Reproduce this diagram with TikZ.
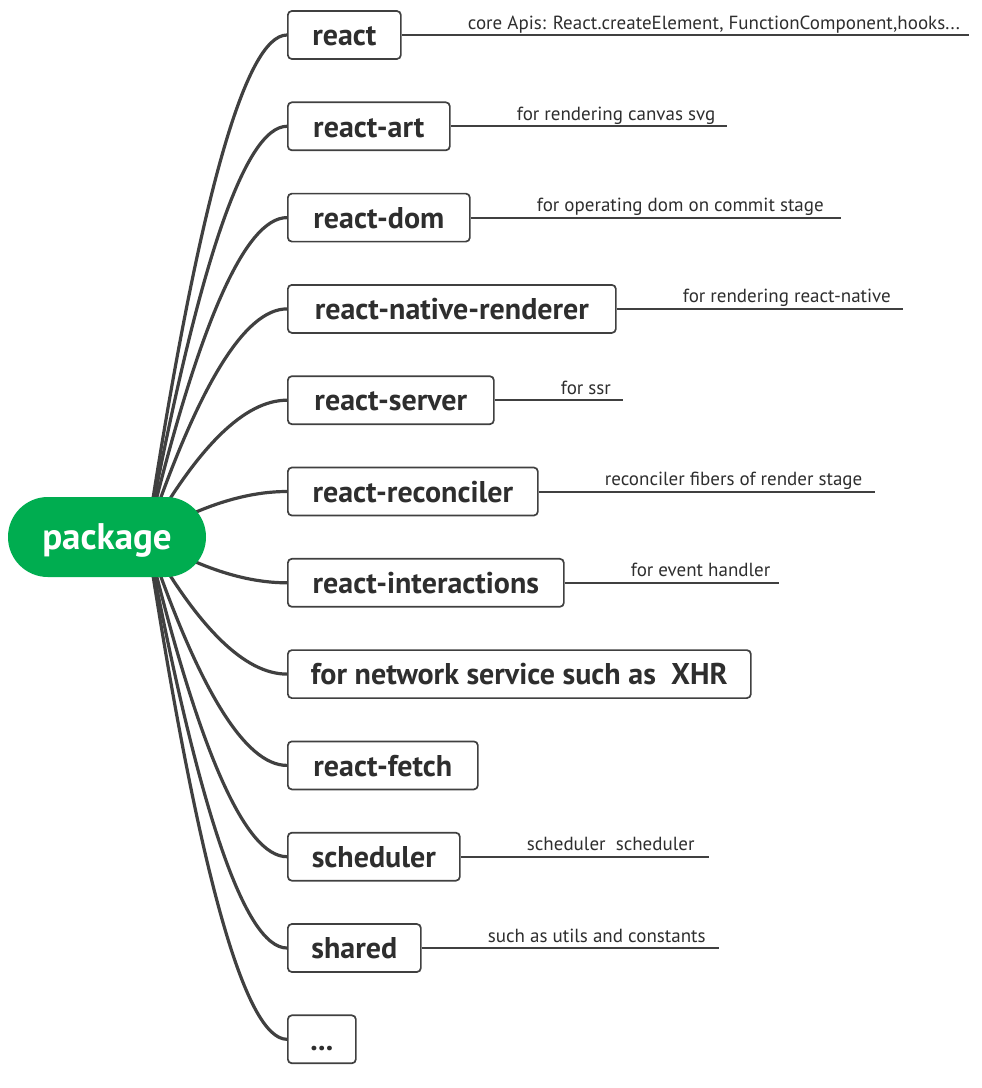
\documentclass[tikz,border=0pt]{standalone}
\usepackage{fontspec}
\setmainfont{PT Sans}
\usetikzlibrary{calc}
\definecolor{rootgreen}{HTML}{00AD50}
\definecolor{ink}{HTML}{2E2E2E}
\definecolor{edgec}{HTML}{404040}
\begin{document}
\begin{tikzpicture}[x=1pt,y=-1pt,
  bx/.style={draw=edgec, line width=1.7pt, rounded corners=4pt, fill=white, anchor=west,
    minimum height=48pt, inner xsep=0pt, inner ysep=0pt, text height=21.5pt, text depth=0pt,
    font=\fontsize{30}{32}\selectfont\bfseries, text=ink},
  lbl/.style={font=\fontsize{19}{21}\selectfont, text=ink, inner sep=0pt, anchor=base west},
  cur/.style={draw=edgec, line width=3.2pt},
  lead/.style={draw=edgec, line width=2pt},
  rootnode/.style={fill=rootgreen, rounded corners=39.9pt, minimum width=198pt, minimum height=80pt,
    inner sep=0pt, text=white, font=\fontsize{37}{39}\selectfont\bfseries, text height=25pt, text depth=0pt}]
\useasboundingbox (0,0) rectangle (982,1088);

% boxes
\node[bx, minimum width=113pt] (b1)  at (287,35)     {react};
\node[bx, minimum width=162pt] (b2)  at (287,126.3)  {react-art};
\node[bx, minimum width=182pt] (b3)  at (287,217.6)  {react-dom};
\node[bx, minimum width=328pt] (b4)  at (287,308.9)  {react-native-renderer};
\node[bx, minimum width=206pt] (b5)  at (287,400.2)  {react-server};
\node[bx, minimum width=250pt] (b6)  at (287,491.5)  {react-reconciler};
\node[bx, minimum width=276pt] (b7)  at (287,582.8)  {react-interactions};
\node[bx, minimum width=463pt] (b8)  at (287,674.1)  {for network service such as\ \ XHR};
\node[bx, minimum width=190pt] (b9)  at (287,765.4)  {react-fetch};
\node[bx, minimum width=172pt] (b10) at (287,856.7)  {scheduler};
\node[bx, minimum width=133pt] (b11) at (287,948)    {shared};
\node[bx, minimum width=68pt]  (b12) at (287,1039.3) {...};

% lead lines and labels
\coordinate (e1)  at (969,35);
\coordinate (e2)  at (727,126.3);
\coordinate (e3)  at (841,217.6);
\coordinate (e4)  at (903,308.9);
\coordinate (e5)  at (623,400.2);
\coordinate (e6)  at (875,491.5);
\coordinate (e7)  at (779,582.8);
\coordinate (e10) at (709,856.7);
\coordinate (e11) at (719,948);
\foreach \i in {1,2,3,4,5,6,7,10,11} {\draw[lead] (b\i.east) -- (e\i);}
\node[lbl] (l1)  at ($(b1.east)+(66,-6)$)  {core Apis: React.createElement, FunctionComponent,hooks...};
\node[lbl] (l2)  at ($(b2.east)+(66,-6)$)  {for rendering canvas svg};
\node[lbl] (l3)  at ($(b3.east)+(66,-6)$)  {for operating dom on commit stage};
\node[lbl] (l4)  at ($(b4.east)+(66,-6)$)  {for rendering react-native};
\node[lbl] (l5)  at ($(b5.east)+(66,-6)$)  {for ssr};
\node[lbl] (l6)  at ($(b6.east)+(66,-6)$)  {reconciler fibers of render stage};
\node[lbl] (l7)  at ($(b7.east)+(66,-6)$)  {for event handler};
\node[lbl] (l10) at ($(b10.east)+(66,-6)$) {scheduler\ \ scheduler};
\node[lbl] (l11) at ($(b11.east)+(66,-6)$) {such as utils and constants};

% curves from the hub
\coordinate (hub) at (147,537);
\foreach \i in {1,...,12} {
  \coordinate (q\i) at (224,0 |- b\i.west);
  \draw[cur] (hub) .. controls ($(hub)!0.6667!(q\i)$) and ($(b\i.west)!0.6667!(q\i)$) .. (b\i.west);
}

% root
\node[rootnode] (root) at (107,537) {package};
\end{tikzpicture}
\end{document}
